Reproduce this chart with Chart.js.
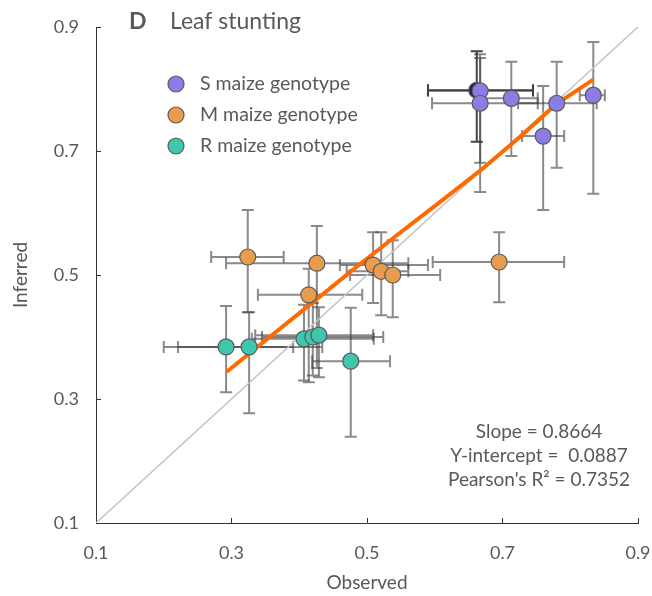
<!DOCTYPE html>
<html>
<head>
<meta charset="utf-8">
<script src="https://cdn.jsdelivr.net/npm/chart.js@4.4.0/dist/chart.umd.min.js"></script>
<style>
  html, body { margin: 0; padding: 0; background: #fff; }
  #wrap { width: 652px; height: 596px; }
</style>
</head>
<body>
<div id="wrap"><canvas id="chart"></canvas></div>
<script>
// --- data ---------------------------------------------------------------
const axisTicks = [0.1, 0.3, 0.5, 0.7, 0.9];
const groupLabels = ['S maize genotype', 'M maize genotype', 'R maize genotype'];
const groupColors = ['#8A7DE6', '#E99C4E', '#3FC7AE'];

// S genotype
const sObs   = [0.667, 0.667, 0.713, 0.780, 0.760, 0.834];
const sInf   = [0.797, 0.777, 0.785, 0.777, 0.724, 0.790];
const sObsLo = [0.590, 0.596, 0.674, 0.723, 0.729, 0.814];
const sObsHi = [0.745, 0.752, 0.752, 0.839, 0.791, 0.851];
const sInfLo = [0.681, 0.634, 0.692, 0.673, 0.605, 0.631];
const sInfHi = [0.856, 0.850, 0.844, 0.844, 0.805, 0.876];

// point hidden behind the first S point (drawn dark)
const hObs   = [0.662];
const hInf   = [0.798];
const hObsLo = [0.590];
const hObsHi = [0.745];
const hInfLo = [0.715];
const hInfHi = [0.861];

// M genotype
const mObs   = [0.324, 0.426, 0.509, 0.521, 0.538, 0.414, 0.695];
const mInf   = [0.529, 0.519, 0.516, 0.506, 0.500, 0.468, 0.521];
const mObsLo = [0.270, 0.292, 0.460, 0.470, 0.475, 0.339, 0.597];
const mObsHi = [0.377, 0.561, 0.590, 0.561, 0.608, 0.493, 0.791];
const mInfLo = [0.440, 0.350, 0.455, 0.435, 0.432, 0.327, 0.456];
const mInfHi = [0.605, 0.579, 0.569, 0.569, 0.556, 0.510, 0.569];

// R genotype
const rObs   = [0.292, 0.326, 0.407, 0.420, 0.429, 0.476];
const rInf   = [0.384, 0.384, 0.397, 0.400, 0.403, 0.361];
const rObsLo = [0.200, 0.221, 0.330, 0.345, 0.335, 0.419];
const rObsHi = [0.391, 0.434, 0.510, 0.524, 0.509, 0.534];
const rInfLo = [0.311, 0.277, 0.330, 0.338, 0.335, 0.239];
const rInfHi = [0.450, 0.440, 0.452, 0.455, 0.448, 0.447];

// fitted line (as drawn) and the 1:1 line
const fitObs = [0.293, 0.354, 0.419, 0.482, 0.545, 0.608, 0.670, 0.726, 0.780, 0.834];
const fitInf = [0.344, 0.398, 0.455, 0.511, 0.565, 0.618, 0.671, 0.723, 0.776, 0.815];
const oneToOne = [0.1, 0.9];

const statsLines = ['Slope = 0.8664', 'Y-intercept =  0.0887', "Pearson's R\u00B2 = 0.7352"];

// -------------------------------------------------------------------------
const FONT = 'Lato, "Open Sans", sans-serif';
const TEXT = '#595959';

function pts(xs, ys) { return xs.map((x, i) => ({ x: x, y: ys[i] })); }

const errorSets = [
  { obs: hObs, inf: hInf, xlo: hObsLo, xhi: hObsHi, ylo: hInfLo, yhi: hInfHi, color: 'rgba(20,20,20,0.8)' },
  { obs: sObs, inf: sInf, xlo: sObsLo, xhi: sObsHi, ylo: sInfLo, yhi: sInfHi, color: 'rgba(60,60,60,0.6)' },
  { obs: mObs, inf: mInf, xlo: mObsLo, xhi: mObsHi, ylo: mInfLo, yhi: mInfHi, color: 'rgba(60,60,60,0.6)' },
  { obs: rObs, inf: rInf, xlo: rObsLo, xhi: rObsHi, ylo: rInfLo, yhi: rInfHi, color: 'rgba(60,60,60,0.6)' }
];

// error bars with caps, under the markers
const errorBars = {
  id: 'errorBars',
  beforeDatasetsDraw(chart) {
    const { ctx, scales: { x, y } } = chart;
    const cap = 6;
    ctx.save();
    ctx.lineWidth = 2;
    errorSets.forEach(set => {
      ctx.strokeStyle = set.color;
      set.obs.forEach((ob, i) => {
        const px = x.getPixelForValue(ob), py = y.getPixelForValue(set.inf[i]);
        const x0 = x.getPixelForValue(set.xlo[i]), x1 = x.getPixelForValue(set.xhi[i]);
        const y0 = y.getPixelForValue(set.ylo[i]), y1 = y.getPixelForValue(set.yhi[i]);
        ctx.beginPath();
        ctx.moveTo(x0, py); ctx.lineTo(x1, py);
        ctx.moveTo(x0, py - cap); ctx.lineTo(x0, py + cap);
        ctx.moveTo(x1, py - cap); ctx.lineTo(x1, py + cap);
        ctx.moveTo(px, y0); ctx.lineTo(px, y1);
        ctx.moveTo(px - cap, y0); ctx.lineTo(px + cap, y0);
        ctx.moveTo(px - cap, y1); ctx.lineTo(px + cap, y1);
        ctx.stroke();
      });
    });
    ctx.restore();
  }
};

// tick marks pointing into the plot, legend, panel title and fit stats
const decorations = {
  id: 'decorations',
  afterDraw(chart) {
    const { ctx, chartArea: a, scales: { x, y } } = chart;
    ctx.save();
    ctx.strokeStyle = '#333';
    ctx.lineWidth = 1;
    ctx.beginPath();
    axisTicks.slice(1).forEach(v => {
      const px = Math.round(x.getPixelForValue(v)) + 0.5;
      ctx.moveTo(px, a.bottom); ctx.lineTo(px, a.bottom - 5);
      const py = Math.round(y.getPixelForValue(v)) + 0.5;
      ctx.moveTo(a.left, py); ctx.lineTo(a.left + 5, py);
    });
    ctx.stroke();

    // panel title
    ctx.fillStyle = TEXT;
    ctx.textBaseline = 'middle';
    ctx.textAlign = 'left';
    ctx.font = 'bold 23px ' + FONT;
    ctx.fillText('D', 129, 22);
    ctx.font = '23px ' + FONT;
    ctx.fillText('Leaf stunting', 170, 22);

    // legend
    ctx.font = '19.5px ' + FONT;
    groupLabels.forEach((lab, i) => {
      const cy = 84 + i * 31;
      ctx.beginPath();
      ctx.arc(176, cy, 8, 0, Math.PI * 2);
      ctx.fillStyle = groupColors[i];
      ctx.fill();
      ctx.strokeStyle = '#5a5a5a';
      ctx.lineWidth = 1.2;
      ctx.stroke();
      ctx.fillStyle = TEXT;
      ctx.fillText(lab, 200, cy);
    });

    // regression stats
    ctx.textAlign = 'center';
    ctx.font = '19px ' + FONT;
    statsLines.forEach((s, i) => ctx.fillText(s, 539, 432 + i * 24));
    ctx.restore();
  }
};

const pointStyle = c => ({
  backgroundColor: c, borderColor: '#5a5a5a', borderWidth: 1.2,
  pointRadius: 8, pointHoverRadius: 8
});

new Chart(document.getElementById('chart'), {
  type: 'scatter',
  data: {
    datasets: [
      { type: 'line', data: pts(oneToOne, oneToOne), borderColor: '#C4C4C4', borderWidth: 1.5,
        pointRadius: 0, order: 10 },
      { type: 'line', data: pts(fitObs, fitInf), borderColor: '#FF6A00', borderWidth: 4,
        pointRadius: 0, tension: 0, order: 5 },
      Object.assign({ data: pts(hObs, hInf), order: 4 }, pointStyle('#1E1E55')),
      Object.assign({ label: groupLabels[0], data: pts(sObs, sInf), order: 3 }, pointStyle(groupColors[0])),
      Object.assign({ label: groupLabels[1], data: pts(mObs, mInf), order: 2 }, pointStyle(groupColors[1])),
      Object.assign({ label: groupLabels[2], data: pts(rObs, rInf), order: 1 }, pointStyle(groupColors[2]))
    ]
  },
  options: {
    responsive: true, maintainAspectRatio: false, animation: false,
    layout: { padding: { left: 0, right: 14, top: 27, bottom: 0 } },
    plugins: { legend: { display: false }, tooltip: { enabled: false } },
    scales: {
      x: {
        type: 'linear', min: 0.1, max: 0.9,
        afterBuildTicks: s => { s.ticks = axisTicks.map(v => ({ value: v })); },
        afterFit: s => { s.height = 73; s.paddingLeft = 0; s.paddingRight = 0; },
        grid: { display: false, drawTicks: false },
        border: { display: true, color: '#333', width: 1 },
        ticks: { color: TEXT, font: { family: FONT, size: 18 }, padding: 19, maxRotation: 0,
          callback: v => v.toFixed(1) },
        title: { display: true, text: 'Observed', color: TEXT, font: { family: FONT, size: 19 },
          padding: { top: 0, bottom: 2 } }
      },
      y: {
        type: 'linear', min: 0.1, max: 0.9,
        afterBuildTicks: s => { s.ticks = axisTicks.map(v => ({ value: v })); },
        afterFit: s => { s.width = 96; s.paddingTop = 0; s.paddingBottom = 0; },
        grid: { display: false, drawTicks: false },
        border: { display: true, color: '#333', width: 1 },
        ticks: { color: TEXT, font: { family: FONT, size: 18 }, padding: 17,
          callback: v => v.toFixed(1) },
        title: { display: true, text: 'Inferred', color: TEXT, font: { family: FONT, size: 19 },
          padding: { top: 9, bottom: 0 } }
      }
    }
  },
  plugins: [errorBars, decorations]
});
</script>
</body>
</html>
